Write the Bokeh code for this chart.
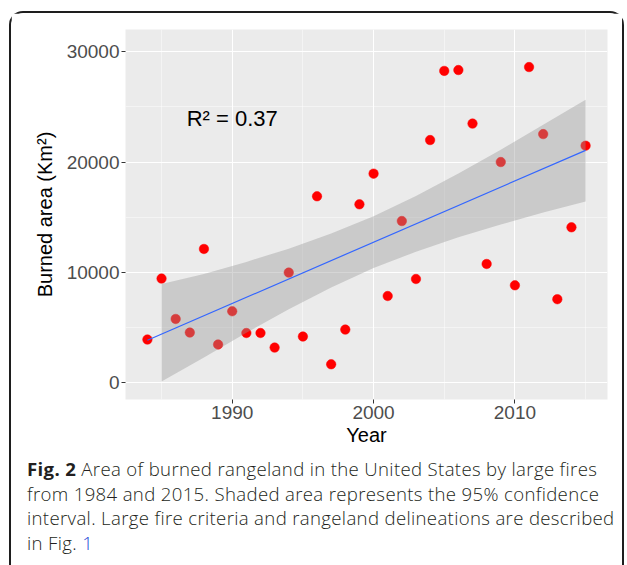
from bokeh.plotting import figure
from bokeh.models import Label, FixedTicker, Range1d, Div
from bokeh.layouts import column
from bokeh.embed import file_html
from bokeh.resources import INLINE

# ---- data ----
years = [1984, 1985, 1986, 1987, 1988, 1989, 1990, 1991, 1992, 1993, 1994,
         1995, 1996, 1997, 1998, 1999, 2000, 2001, 2002, 2003, 2004, 2005,
         2006, 2007, 2008, 2009, 2010, 2011, 2012, 2013, 2014, 2015]
burned_area = [3930, 9450, 5790, 4560, 12130, 3480, 6490, 4520, 4520, 3200, 9990,
               4200, 16900, 1690, 4830, 16170, 18950, 7870, 14660, 9410, 21990, 28250,
               28330, 23480, 10770, 20000, 8840, 28600, 22530, 7580, 14090, 21480]

fit_years = [1984, 2015]
fit_values = [3865, 21060]

band_years = [1985, 1988, 1991, 1994, 1997, 2000, 2003, 2006, 2009, 2012, 2015]
band_lower = [120, 2310, 4540, 6660, 8630, 10400, 11880, 13180, 14340, 15420, 16420]
band_upper = [8950, 9860, 10960, 12160, 13520, 15100, 16930, 18960, 21120, 23370, 25640]

x_major = [1990, 2000, 2010]
x_minor = [1985, 1995, 2005, 2015]
y_major = [0, 10000, 20000, 30000]
y_minor = [5000, 15000, 25000]

r2_text = "R\u00b2 = 0.37"
x_title = "Year"
y_title = "Burned area (Km\u00b2)"
caption_bold = "Fig. 2"
caption_lines = [
    "Area of burned rangeland in the United States by large fires",
    "from 1984 and 2015. Shaded area represents the 95% confidence",
    "interval. Large fire criteria and rangeland delineations are described",
    "in Fig.",
]
caption_link = "1"

FONT = "Liberation Sans"
BORDER = "2px solid #1e1e1e"

x_rng = Range1d(1982.45, 2016.55)
y_rng = Range1d(-1500, 32000)

p = figure(width=615, height=447, x_range=x_rng, y_range=y_rng,
           output_backend="svg", toolbar_location=None,
           min_border_left=114, min_border_right=19,
           min_border_top=16, min_border_bottom=61,
           styles={"margin-left": "9px", "margin-top": "11px",
                   "border-top": BORDER, "border-left": BORDER, "border-right": BORDER,
                   "border-top-left-radius": "14px",
                   "border-top-right-radius": "14px"})

p.background_fill_color = "#EBEBEB"
p.border_fill_color = "white"
p.outline_line_color = None

p.xaxis.ticker = FixedTicker(ticks=x_major, minor_ticks=x_minor)
p.yaxis.ticker = FixedTicker(ticks=y_major, minor_ticks=y_minor)

for ax in (p.xaxis, p.yaxis):
    ax.axis_line_color = None
    ax.major_tick_line_color = "#333333"
    ax.major_tick_line_width = 1
    ax.major_tick_out = 4
    ax.major_tick_in = 0
    ax.minor_tick_out = 0
    ax.minor_tick_in = 0
    ax.major_label_text_color = "#4D4D4D"
    ax.major_label_text_font = FONT
    ax.major_label_text_font_size = "19px"
    ax.major_label_standoff = 2
    ax.axis_label_text_font = FONT
    ax.axis_label_text_font_size = "20px"
    ax.axis_label_text_font_style = "normal"
    ax.axis_label_text_color = "black"

p.xaxis.axis_label = x_title
p.yaxis.axis_label = y_title
p.xaxis.axis_label_standoff = 2
p.yaxis.axis_label_standoff = 8

for g in (p.xgrid, p.ygrid):
    g.grid_line_color = "white"
    g.grid_line_width = 1.1
    g.minor_grid_line_color = "white"
    g.minor_grid_line_width = 0.6
    g.minor_grid_line_alpha = 0.8

p.scatter(years, burned_area, size=9.5, fill_color="#FF0000", line_color="#FF0000",
          line_width=0.5)
p.varea(x=band_years, y1=band_lower, y2=band_upper, fill_color="#999999", fill_alpha=0.4)
p.line(fit_years, fit_values, line_color="#3366FF", line_width=1.2)

p.add_layout(Label(x=1990, y=23930, text=r2_text, text_align="center",
                   text_baseline="alphabetic", text_font=FONT,
                   text_font_size="22px", text_color="black"))

cap_html = (
    f"<b style='font-weight:700'>{caption_bold}</b> {caption_lines[0]}<br>"
    f"{caption_lines[1]}<br>"
    f"{caption_lines[2]}<br>"
    f"{caption_lines[3]} <span style='color:#1a3fd6'>{caption_link}</span>"
)
cap = Div(text=cap_html, width=615, height=111,
          styles={"margin-left": "9px", "margin-top": "-4px",
                  "border-left": BORDER, "border-right": BORDER,
                  "padding-left": "16px", "padding-top": "3px",
                  "font-family": "'Open Sans', sans-serif",
                  "font-weight": "300", "letter-spacing": "0.34px",
                  "font-size": "18.6px", "line-height": "24.6px",
                  "color": "#231F20", "white-space": "nowrap",
                  "box-sizing": "border-box"})

layout = column(p, cap, spacing=0)

open("out.html", "w").write(file_html(layout, INLINE))
